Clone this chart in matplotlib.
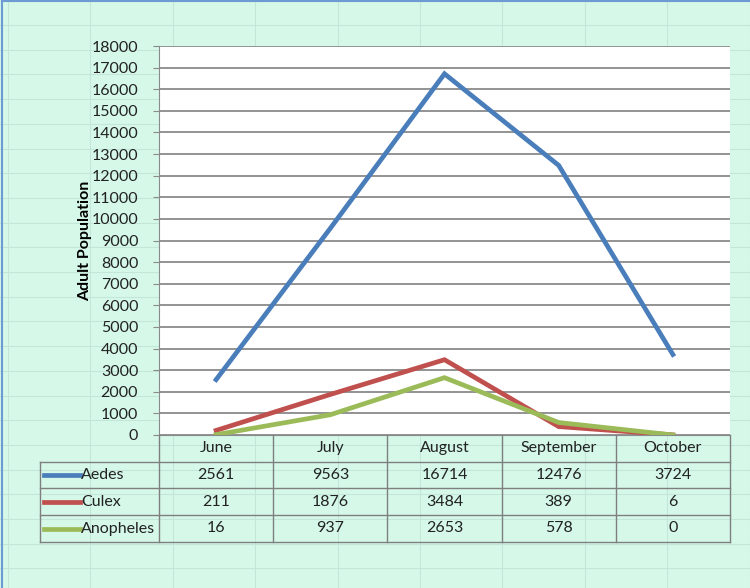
import numpy as np
import matplotlib.pyplot as plt
from matplotlib.lines import Line2D

# data
months = ['June', 'July', 'August', 'September', 'October']
aedes = [2561, 9563, 16714, 12476, 3724]
culex = [211, 1876, 3484, 389, 6]
anopheles = [16, 937, 2653, 578, 0]
species = ['Aedes', 'Culex', 'Anopheles']
series = [aedes, culex, anopheles]
colors = ['#4a7ebb', '#c0504d', '#9bbb59']

W, H = 750, 588
plt.rcParams['font.family'] = ['Lato', 'DejaVu Sans']

fig = plt.figure(figsize=(7.5, 5.88), dpi=100)
fig.patch.set_facecolor('#d5f8e9')

def fx(px):
    return px / W

def fy(py):
    return 1 - py / H

# spreadsheet cells behind the chart
for x in np.arange(8, W, 82.4):
    fig.add_artist(Line2D([fx(x)] * 2, [0, 1], color='#c3e6d9', lw=0.8, zorder=0))
for y in np.arange(25, H, 24.7):
    fig.add_artist(Line2D([0, 1], [fy(y)] * 2, color='#c3e6d9', lw=0.8, zorder=0))
fig.add_artist(Line2D([fx(1.5)] * 2, [0, fy(0.5)], color='#6d9ad3', lw=1.5))
fig.add_artist(Line2D([fx(1.5), 1], [fy(1)] * 2, color='#6d9ad3', lw=1.5))

# plot area
left, right, top, bottom = 159, 730, 46, 435
ax = fig.add_axes([fx(left), fy(bottom), fx(right) - fx(left), fy(top) - fy(bottom)])
ax.set_facecolor('white')
x = np.arange(len(months))
for vals, c in zip(series, colors):
    ax.plot(x, vals, color=c, lw=3.4, solid_joinstyle='miter', zorder=3)

ax.set_xlim(-0.5, len(months) - 0.5)
ax.set_ylim(0, 18000)
ax.set_yticks(np.arange(0, 18001, 1000))
ax.set_xticks([])
ax.yaxis.grid(True, color='#8a8a8a', lw=1.3)
ax.set_axisbelow(True)
for s in ['top', 'right']:
    ax.spines[s].set_visible(False)
ax.spines['left'].set_color('#8a8a8a')
ax.spines['bottom'].set_color('#8a8a8a')
ax.tick_params(axis='y', length=4, color='#8a8a8a', labelsize=11.5,
               labelcolor='#222222', pad=11)
ax.set_ylabel('Adult Population', fontsize=11.5, fontweight='bold')
ax.yaxis.set_label_coords((92 - left) / (right - left), 0.5)

# data table under the plot
rows_y = [435, 461.5, 488, 515, 542]
col_x = [left + k * (right - left) / len(months) for k in range(len(months) + 1)]
tcol = 40
gray = '#7f7f7f'
for y in rows_y[1:]:
    fig.add_artist(Line2D([fx(tcol), fx(right)], [fy(y)] * 2, color=gray, lw=1))
for cx in col_x:
    fig.add_artist(Line2D([fx(cx)] * 2, [fy(rows_y[0]), fy(rows_y[-1])], color=gray, lw=1))
fig.add_artist(Line2D([fx(tcol)] * 2, [fy(rows_y[1]), fy(rows_y[-1])], color=gray, lw=1))

tk = dict(fontsize=11.5, color='#222222', va='center')
for i, m in enumerate(months):
    cx = (col_x[i] + col_x[i + 1]) / 2
    fig.text(fx(cx), fy((rows_y[0] + rows_y[1]) / 2), m, ha='center', **tk)
for r, (name, vals, c) in enumerate(zip(species, series, colors)):
    cy = (rows_y[r + 1] + rows_y[r + 2]) / 2
    fig.add_artist(Line2D([fx(44), fx(80)], [fy(cy)] * 2, color=c, lw=3.4))
    fig.text(fx(81), fy(cy), name, ha='left', **tk)
    for i, v in enumerate(vals):
        cx = (col_x[i] + col_x[i + 1]) / 2
        fig.text(fx(cx), fy(cy), str(v), ha='center', **tk)

fig.savefig('out.png', dpi=100, facecolor=fig.get_facecolor())
